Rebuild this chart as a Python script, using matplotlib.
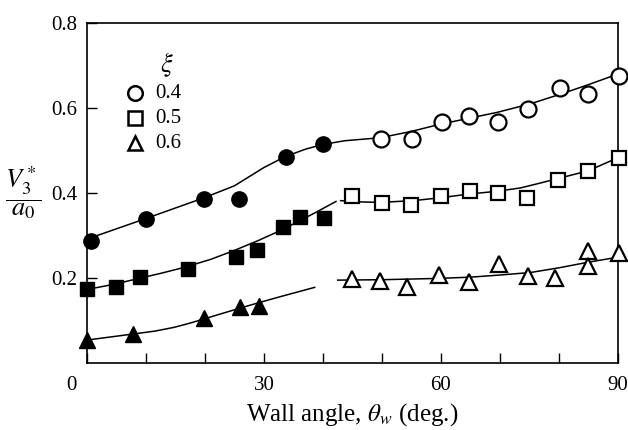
import numpy as np
import matplotlib
matplotlib.use("Agg")
import matplotlib.pyplot as plt
import matplotlib.transforms as mtransforms

plt.rcParams['font.family'] = ['Liberation Serif', 'DejaVu Serif']
plt.rcParams['mathtext.fontset'] = 'stix'

# measured points, xi = 0.4 / 0.5 / 0.6 (filled: theta_w < 42, open: theta_w > 42)
c_fill_x = [0.7, 10.0, 19.9, 25.7, 33.8, 40.0]
c_fill_y = [0.288, 0.340, 0.387, 0.385, 0.485, 0.516]
c_open_x = [49.8, 55.1, 60.2, 64.8, 69.6, 74.7, 80.1, 84.9, 90.1]
c_open_y = [0.527, 0.528, 0.568, 0.581, 0.568, 0.598, 0.648, 0.634, 0.676]

s_fill_x = [0.0, 4.9, 9.0, 17.2, 25.2, 28.9, 33.2, 36.1, 40.1]
s_fill_y = [0.173, 0.179, 0.202, 0.222, 0.249, 0.265, 0.321, 0.343, 0.342]
s_open_x = [44.9, 50.0, 54.9, 60.0, 65.0, 69.7, 74.5, 79.9, 84.9, 90.1]
s_open_y = [0.392, 0.377, 0.372, 0.392, 0.404, 0.401, 0.388, 0.431, 0.451, 0.482]

t_fill_x = [0.0, 7.8, 19.9, 26.0, 29.1]
t_fill_y = [0.054, 0.068, 0.106, 0.131, 0.134]
t_open_x = [44.9, 49.7, 54.3, 59.7, 64.8, 69.9, 74.8, 79.4, 84.9, 84.9, 90.1]
t_open_y = [0.197, 0.192, 0.180, 0.206, 0.190, 0.234, 0.204, 0.199, 0.263, 0.228, 0.258]

# fitted curves
c_fit_x = [0.3, 10.0, 19.9, 25.0, 30.0, 33.5, 37.0, 39.9, 43.7, 49.7, 55.0, 59.9, 64.8, 69.6, 75.2, 80.8, 85.0, 90.0]
c_fit_y = [0.293, 0.340, 0.389, 0.417, 0.460, 0.485, 0.503, 0.514, 0.523, 0.530, 0.545, 0.562, 0.576, 0.590, 0.610, 0.635, 0.655, 0.680]

s_fit1_x = [0.0, 4.5, 8.8, 12.5, 16.5, 21.0, 25.0, 29.0, 33.0, 36.1, 39.0, 42.2]
s_fit1_y = [0.173, 0.185, 0.199, 0.211, 0.225, 0.244, 0.265, 0.288, 0.313, 0.335, 0.356, 0.380]
s_fit2_x = [43.0, 46.5, 49.7, 55.3, 60.0, 65.0, 69.5, 73.5, 77.0, 79.8, 84.9, 90.0]
s_fit2_y = [0.382, 0.379, 0.378, 0.382, 0.389, 0.398, 0.404, 0.412, 0.424, 0.434, 0.452, 0.483]

t_fit1_x = [0.0, 7.7, 11.5, 14.8, 17.5, 19.9, 25.9, 28.9, 33.0, 38.6]
t_fit1_y = [0.054, 0.068, 0.075, 0.084, 0.094, 0.104, 0.129, 0.141, 0.157, 0.178]
t_fit2_x = [42.5, 50.0, 59.4, 65.0, 70.0, 75.2, 80.0, 84.9, 90.0]
t_fit2_y = [0.195, 0.196, 0.199, 0.202, 0.207, 0.213, 0.224, 0.237, 0.249]

xi_labels = ['0.4', '0.5', '0.6']

fig = plt.figure(figsize=(6.28, 4.30), dpi=100)
ax = fig.add_axes([0.1385, 0.1558, 0.8455, 0.7907])

lw = 1.1
for fx, fy in [(c_fit_x, c_fit_y), (s_fit1_x, s_fit1_y), (s_fit2_x, s_fit2_y),
               (t_fit1_x, t_fit1_y), (t_fit2_x, t_fit2_y)]:
    ax.plot(fx, fy, color='black', lw=lw, zorder=2, solid_joinstyle='round')

ax.plot(c_fill_x, c_fill_y, 'o', ms=11, color='black', zorder=3, clip_on=False)
ax.plot(c_open_x, c_open_y, 'o', ms=11.5, mfc='white', mec='black', mew=1.6, zorder=3, clip_on=False)
ax.plot(s_fill_x, s_fill_y, 's', ms=10, color='black', zorder=3, clip_on=False)
ax.plot(s_open_x, s_open_y, 's', ms=10, mfc='white', mec='black', mew=1.6, zorder=3, clip_on=False)
ax.plot(t_fill_x, t_fill_y, '^', ms=11, color='black', zorder=3, clip_on=False)
ax.plot(t_open_x, t_open_y, '^', ms=11, mfc='white', mec='black', mew=1.6, zorder=3, clip_on=False)

# legend drawn by hand
ax.text(0.151, 0.876, r'$\xi$', transform=ax.transAxes, fontsize=19, ha='center', va='center')
leg_y = [0.794, 0.7206, 0.647]
for mk, yy, lab in zip(['o', 's', '^'], leg_y, xi_labels):
    ax.plot([0.0904], [yy], mk, ms=10.5, mfc='white', mec='black', mew=1.8, transform=ax.transAxes)
    ax.text(0.128, yy, lab, transform=ax.transAxes, fontsize=15, ha='left', va='center')

ax.set_xlim(0, 90)
ax.set_ylim(0, 0.8)
ax.set_xticks([0, 30, 60, 90])
ax.set_xticks(np.arange(10, 90, 10), minor=True)
ax.set_yticks([0.2, 0.4, 0.6, 0.8])
ax.set_yticklabels(['0.2', '0.4', '0.6', '0.8'])
ax.tick_params(which='both', direction='in', length=7, width=1, labelsize=15)
ax.tick_params(axis='x', pad=9)
ax.tick_params(axis='y', pad=7)

# the "0" label sits left of its tick in the original
lab0 = ax.get_xticklabels()[0]
lab0.set_transform(lab0.get_transform() + mtransforms.ScaledTranslation(-0.16, 0, fig.dpi_scale_trans))

for sp in ax.spines.values():
    sp.set_linewidth(1.2)

ax.set_xlabel(r'Wall angle, $\theta_w$ (deg.)', fontsize=18, labelpad=5)
fig.text(0.038, 0.551, r'$\dfrac{V_3^*}{a_0}$', fontsize=19, ha='center', va='center')

fig.savefig('out.png', dpi=100)
